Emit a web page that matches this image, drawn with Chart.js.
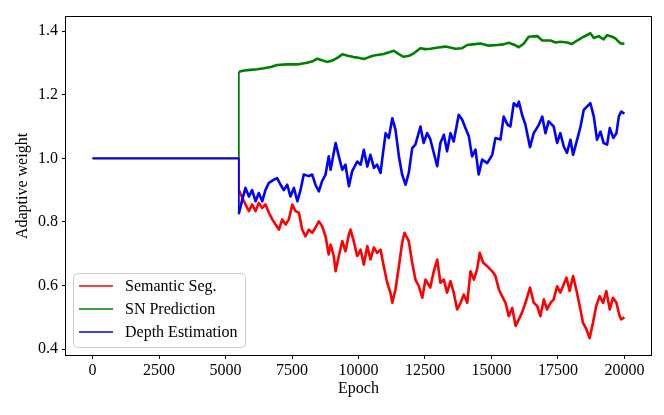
<!DOCTYPE html>
<html>
<head>
<meta charset="utf-8">
<script src="https://cdn.jsdelivr.net/npm/chart.js@4"></script>
<style>
  body{margin:0;background:#fff;}
  #wrap{width:664px;height:415px;}
</style>
</head>
<body>
<div id="wrap"><canvas id="grafico" width="664" height="415"></canvas></div>
<script>
// valores
const xTicks=[0,2500,5000,7500,10000,12500,15000,17500,20000];
const yTicks=[0.4,0.6,0.8,1.0,1.2,1.4];

const segEpochs=[0,5500,5500,5630,5750,5880,6000,6130,6250,6380,6500,6630,6760,6880,7010,7130,7260,7380,7510,7630,7760,7880,8010,8130,8260,8380,8510,8630,8760,8880,8950,9070,9140,9260,9390,9510,9640,9700,9820,9950,10080,10200,10330,10450,10580,10700,10830,10950,11080,11200,11270,11390,11520,11640,11730,11890,12020,12140,12270,12400,12520,12700,12830,12960,13080,13210,13330,13460,13580,13710,13840,13960,14090,14210,14340,14460,14560,14690,14840,15030,15150,15280,15400,15530,15650,15780,15910,16030,16150,16280,16450,16590,16720,16840,16970,17090,17220,17340,17470,17590,17720,17820,17940,18070,18190,18320,18440,18570,18690,18820,18940,19070,19200,19320,19450,19570,19700,19820,19880,20000];
const segValores=[1.0,1.0,0.90,0.876,0.855,0.834,0.855,0.834,0.86,0.844,0.855,0.829,0.808,0.792,0.776,0.808,0.792,0.808,0.855,0.834,0.829,0.776,0.755,0.776,0.766,0.782,0.802,0.787,0.755,0.698,0.729,0.693,0.645,0.693,0.74,0.708,0.761,0.776,0.74,0.693,0.713,0.666,0.724,0.682,0.72,0.703,0.713,0.661,0.609,0.578,0.546,0.588,0.661,0.734,0.766,0.74,0.672,0.619,0.598,0.562,0.619,0.594,0.645,0.682,0.609,0.619,0.578,0.614,0.578,0.525,0.546,0.572,0.546,0.645,0.619,0.651,0.703,0.672,0.661,0.645,0.63,0.588,0.567,0.546,0.504,0.53,0.473,0.494,0.515,0.546,0.594,0.546,0.536,0.504,0.557,0.525,0.546,0.557,0.598,0.578,0.604,0.625,0.583,0.63,0.588,0.536,0.484,0.463,0.435,0.484,0.536,0.567,0.546,0.583,0.525,0.562,0.546,0.504,0.494,0.50];

const snEpochs=[0,5500,5500,5700,5940,6200,6440,6700,6940,7320,7690,8070,8300,8450,8620,8820,9070,9250,9390,9600,9820,10000,10200,10400,10580,10950,11150,11330,11500,11700,11900,12080,12330,12500,12710,13000,13270,13650,13900,14090,14300,14590,14900,15210,15450,15650,15850,16030,16220,16400,16720,16910,17220,17410,17590,17850,18030,18220,18470,18720,18850,19030,19220,19350,19540,19660,19850,20000];
const snValores=[1.0,1.0,1.272,1.276,1.278,1.28,1.283,1.287,1.293,1.295,1.295,1.30,1.306,1.313,1.308,1.303,1.309,1.318,1.327,1.322,1.318,1.316,1.312,1.318,1.323,1.328,1.333,1.338,1.328,1.319,1.322,1.33,1.346,1.343,1.344,1.348,1.351,1.344,1.346,1.356,1.358,1.361,1.354,1.356,1.358,1.363,1.357,1.349,1.361,1.382,1.384,1.37,1.37,1.364,1.366,1.364,1.359,1.37,1.382,1.393,1.378,1.384,1.374,1.387,1.382,1.377,1.361,1.36];

const profEpochs=[0,5500,5500,5630,5750,5880,6000,6130,6250,6380,6500,6630,6820,6940,7070,7190,7320,7440,7570,7700,7820,7940,8130,8260,8380,8510,8630,8760,8880,8950,9140,9260,9390,9510,9640,9760,9950,10080,10200,10330,10450,10580,10700,10830,10890,11020,11140,11270,11390,11520,11640,11770,11890,12020,12140,12330,12450,12580,12700,12960,13080,13210,13330,13460,13580,13770,13900,14020,14150,14270,14400,14520,14650,14840,15030,15150,15340,15460,15610,15710,15840,15970,16030,16150,16280,16450,16590,16780,16910,17030,17150,17340,17470,17590,17720,17840,17970,18070,18220,18350,18470,18600,18720,18850,18970,19100,19220,19350,19450,19580,19700,19790,19880,20000];
const profValores=[1.0,1.0,0.826,0.87,0.907,0.88,0.90,0.865,0.891,0.865,0.90,0.923,0.933,0.938,0.917,0.90,0.917,0.88,0.907,0.865,0.90,0.949,0.944,0.949,0.917,0.896,0.928,0.949,1.006,0.964,1.048,1.006,0.964,0.98,0.912,0.959,0.99,0.98,1.027,0.974,1.011,0.97,0.98,0.954,0.996,1.079,1.064,1.126,1.09,1.006,0.949,0.917,0.954,1.032,1.043,1.10,1.048,1.079,1.06,0.975,1.048,1.074,1.022,1.079,1.053,1.137,1.121,1.095,1.069,1.006,1.027,0.949,0.996,0.985,1.011,1.064,1.059,1.131,1.105,1.10,1.173,1.163,1.178,1.137,1.105,1.035,1.079,1.105,1.131,1.079,1.116,1.10,1.048,1.079,1.037,1.017,1.058,1.011,1.058,1.10,1.152,1.163,1.173,1.131,1.058,1.084,1.048,1.043,1.095,1.064,1.079,1.131,1.147,1.14];

const fonte='"Liberation Serif", "Times New Roman", serif';

function pontos(xs,ys){ return xs.map((x,i)=>({x:x,y:ys[i]})); }

// trecho constante mais fino, trecho ruidoso mais grosso
const larguraTrecho=ctx=>ctx.p1.parsed.x<=5500 ? 1.8 : 2.6;

// moldura completa estilo matplotlib
const moldura={
  id:'moldura',
  afterDatasetsDraw(chart){
    const a=chart.chartArea, ctx=chart.ctx;
    ctx.save();
    ctx.strokeStyle='#000'; ctx.lineWidth=1;
    ctx.strokeRect(Math.round(a.left)-0.5,Math.round(a.top)-0.5,Math.round(a.right-a.left)+1,Math.round(a.bottom-a.top)+1);
    ctx.restore();
  }
};

// legenda dentro do gráfico
const legenda={
  id:'legenda',
  afterDraw(chart){
    const ctx=chart.ctx;
    const x0=73.5, y0=273.5, w=172, h=74, r=4;
    ctx.save();
    ctx.beginPath();
    ctx.moveTo(x0+r,y0); ctx.lineTo(x0+w-r,y0); ctx.quadraticCurveTo(x0+w,y0,x0+w,y0+r);
    ctx.lineTo(x0+w,y0+h-r); ctx.quadraticCurveTo(x0+w,y0+h,x0+w-r,y0+h);
    ctx.lineTo(x0+r,y0+h); ctx.quadraticCurveTo(x0,y0+h,x0,y0+h-r);
    ctx.lineTo(x0,y0+r); ctx.quadraticCurveTo(x0,y0,x0+r,y0); ctx.closePath();
    ctx.fillStyle='rgba(255,255,255,0.8)'; ctx.fill();
    ctx.strokeStyle='#cccccc'; ctx.lineWidth=1; ctx.stroke();
    ctx.font='16px '+fonte; ctx.textBaseline='middle'; ctx.fillStyle='#000';
    chart.data.datasets.forEach((ds,i)=>{
      const y=286+i*23;
      ctx.strokeStyle=ds.borderColor; ctx.lineWidth=1.5;
      ctx.beginPath(); ctx.moveTo(79,y); ctx.lineTo(113,y); ctx.stroke();
      ctx.fillText(ds.label,125,y+1);
    });
    ctx.restore();
  }
};

new Chart(document.getElementById('grafico'),{
  type:'line',
  data:{
    datasets:[
      {label:'Semantic Seg.', data:pontos(segEpochs,segValores), borderColor:'#ff0000', borderWidth:2.4, segment:{borderWidth:larguraTrecho}, order:3},
      {label:'SN Prediction', data:pontos(snEpochs,snValores), borderColor:'#008000', borderWidth:2.4, segment:{borderWidth:larguraTrecho}, order:2},
      {label:'Depth Estimation', data:pontos(profEpochs,profValores), borderColor:'#0000ff', borderWidth:2.4, segment:{borderWidth:larguraTrecho}, order:1}
    ]
  },
  options:{
    responsive:false, animation:false,
    elements:{point:{radius:0}, line:{tension:0, borderJoinStyle:'round', fill:false}},
    layout:{padding:{left:0,right:13,top:17,bottom:0}},
    plugins:{legend:{display:false}, tooltip:{enabled:false}},
    scales:{
      x:{
        type:'linear', min:-1000, max:21000,
        afterBuildTicks:s=>{ s.ticks=xTicks.map(v=>({value:v})); },
        afterFit:s=>{ s.height=60; },
        ticks:{color:'#000', font:{family:fonte,size:16}, padding:2, maxRotation:0, callback:v=>String(v)},
        grid:{display:true, drawOnChartArea:false, drawTicks:true, tickLength:4, color:'#000'},
        border:{display:false},
        title:{display:true, text:'Epoch', color:'#000', font:{family:fonte,size:16}, padding:{top:0,bottom:17}}
      },
      y:{
        min:0.382, max:1.444,
        afterBuildTicks:s=>{ s.ticks=yTicks.map(v=>({value:v})); },
        afterFit:s=>{ s.width=66; },
        ticks:{color:'#000', font:{family:fonte,size:16}, padding:4, callback:v=>v.toFixed(1)},
        grid:{display:true, drawOnChartArea:false, drawTicks:true, tickLength:4, color:'#000'},
        border:{display:false},
        title:{display:true, text:'Adaptive weight', color:'#000', font:{family:fonte,size:16}, padding:{top:13,bottom:0}}
      }
    }
  },
  plugins:[moldura,legenda]
});
</script>
</body>
</html>
